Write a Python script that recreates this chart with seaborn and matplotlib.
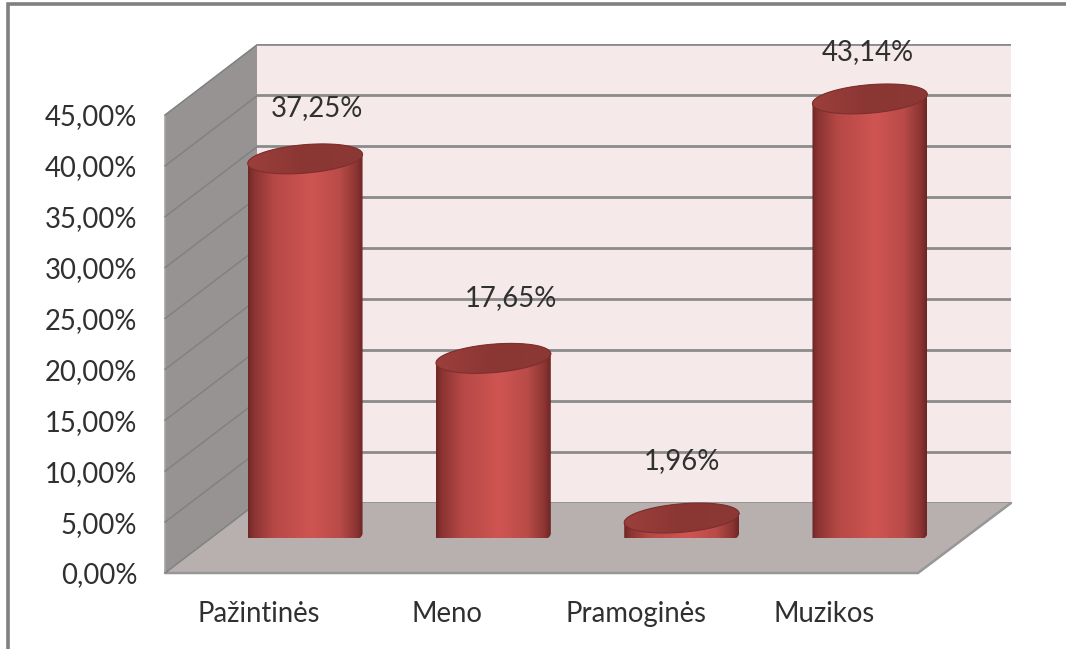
import numpy as np
import seaborn as sns
import matplotlib.pyplot as plt
from matplotlib.colors import LinearSegmentedColormap
from matplotlib.patches import Polygon

categories = ['Pažintinės', 'Meno', 'Pramoginės', 'Muzikos']
values = [37.25, 17.65, 1.96, 43.14]
value_labels = ['37,25%', '17,65%', '1,96%', '43,14%']
y_ticks = [0, 5, 10, 15, 20, 25, 30, 35, 40, 45]
y_tick_labels = ['0,00%', '5,00%', '10,00%', '15,00%', '20,00%',
                 '25,00%', '30,00%', '35,00%', '40,00%', '45,00%']

# label nudges in pixels, measured from the top of each cylinder
label_dx = [12, 18, 0, -2]
label_dy = [51, 60, 57, 47]

W, H = 1066, 649
sns.set_theme(style='white')
plt.rcParams['font.family'] = ['Lato', 'DejaVu Sans']
TEXT = '#303030'


def px_axes(fig, left, right, top, bottom):
    return fig.add_axes([left / W, 1 - bottom / H, (right - left) / W, (bottom - top) / H])


fig = plt.figure(figsize=(W / 100, H / 100), dpi=100, facecolor='white')

# pixel canvas for frame and the chart walls
canvas = fig.add_axes([0, 0, 1, 1], zorder=0)
canvas.set_xlim(0, W)
canvas.set_ylim(H, 0)
canvas.axis('off')
canvas.plot([8, 8, W], [H, 3.5, 3.5], color='#808080', lw=2.6, solid_joinstyle='miter')
canvas.add_patch(Polygon([(165, 115), (257, 44), (257, 503), (165, 573)], fc='#989393', ec='none'))
canvas.add_patch(Polygon([(165, 573), (257, 503), (1011, 503), (918, 573)], fc='#b8afaf', ec='none'))
canvas.plot([165, 918, 1011], [573, 573, 503], color='#979797', lw=1.8)
canvas.plot([165, 165], [115, 573], color='#a5a5a5', lw=1.2)
for v in y_ticks:
    yf = 573 - v * 458 / 45
    canvas.plot([165, 257], [yf, yf - 70], color='#7f8282', lw=1.1)

# back wall with its gridlines
back = px_axes(fig, 257, 1011, 44, 503)
back.set_zorder(1)
back.set_facecolor('#f5e9e9')
back.set_xlim(0, 1)
back.set_ylim(0, 45)
back.set_xticks([])
back.set_yticks(y_ticks)
back.tick_params(left=False, labelleft=False)
back.grid(axis='y', color='#8b8b8b', lw=2)
sns.despine(ax=back, left=True, bottom=True, right=True, top=True)

# front plane carries the tick labels
front = px_axes(fig, 165, 918, 115, 573)
front.set_zorder(2)
front.patch.set_alpha(0)
front.set_xlim(-0.5, 3.5)
front.set_ylim(0, 45)
front.set_xticks(range(len(categories)), categories)
front.set_yticks(y_ticks, y_tick_labels)
front.tick_params(axis='y', length=0, pad=20, labelsize=19.8, labelcolor=TEXT)
front.tick_params(axis='x', length=0, pad=20, labelsize=19.8, labelcolor=TEXT)
sns.despine(ax=front, left=True, bottom=True, right=True, top=True)

# the cylinders stand on a plane pushed back into the chart
ax = px_axes(fig, 211, 964, 80, 538)
ax.set_zorder(3)
ax.patch.set_alpha(0)
sns.barplot(x=categories, y=values, order=categories, width=0.61, color='#c0504d', ax=ax, saturation=1)
ax.set_xlim(-0.5, 3.5)
ax.set_ylim(0, 45)
ax.axis('off')

shade = LinearSegmentedColormap.from_list('cyl', [
    (0.0, '#702725'), (0.05, '#8a3432'), (0.22, '#b54845'),
    (0.55, '#cf5552'), (0.8, '#b94b48'), (0.95, '#8a3432'), (1.0, '#6c2624')])
lid = LinearSegmentedColormap.from_list('lid', ['#9c3f3c', '#8a3633', '#8c3835'])
ramp = np.linspace(0, 1, 256).reshape(1, -1)

t = np.linspace(0, 2 * np.pi, 200)
ry = 1.4       # half height of the ellipses in percent units
tilt = 0.45    # ellipses lean up to the right

for bar, val in zip(ax.patches, values):
    x0 = bar.get_x()
    w = bar.get_width()
    cx = x0 + w / 2
    bar.set_facecolor('none')
    bar.set_edgecolor('none')
    ex = cx + w / 2 * np.cos(t)
    ey = ry * np.sin(t) + tilt * np.cos(t)

    low = t >= np.pi
    order = np.argsort(ex[low])
    top_half = t < np.pi
    body = np.vstack([
        np.column_stack([ex[low][order], ey[low][order]]),
        np.column_stack([ex[top_half], val + ey[top_half]]),
    ])
    clip = Polygon(body, transform=ax.transData, fc='none', ec='none', clip_on=False)
    ax.add_patch(clip)
    im = ax.imshow(ramp, cmap=shade, extent=[x0, x0 + w, -3, val + 3], aspect='auto', zorder=3)
    im.set_clip_box(None)
    im.set_clip_path(clip)

    cap = Polygon(np.column_stack([ex, val + ey]), fc='none', ec='none', transform=ax.transData, clip_on=False)
    ax.add_patch(cap)
    im2 = ax.imshow(ramp, cmap=lid, extent=[x0, x0 + w, val - 3, val + 3], aspect='auto', zorder=4)
    im2.set_clip_box(None)
    im2.set_clip_path(cap)
    ax.plot(ex, val + ey, color='#7d2f2d', lw=0.8, zorder=5, clip_on=False)

ax.set_xlim(-0.5, 3.5)
ax.set_ylim(0, 45)

for i, val in enumerate(values):
    ax.annotate(value_labels[i], xy=(i, val), xytext=(label_dx[i], label_dy[i]),
                textcoords='offset pixels', ha='center', va='center',
                fontsize=19.8, color=TEXT, zorder=6, annotation_clip=False)

fig.savefig('out.png', dpi=100)
